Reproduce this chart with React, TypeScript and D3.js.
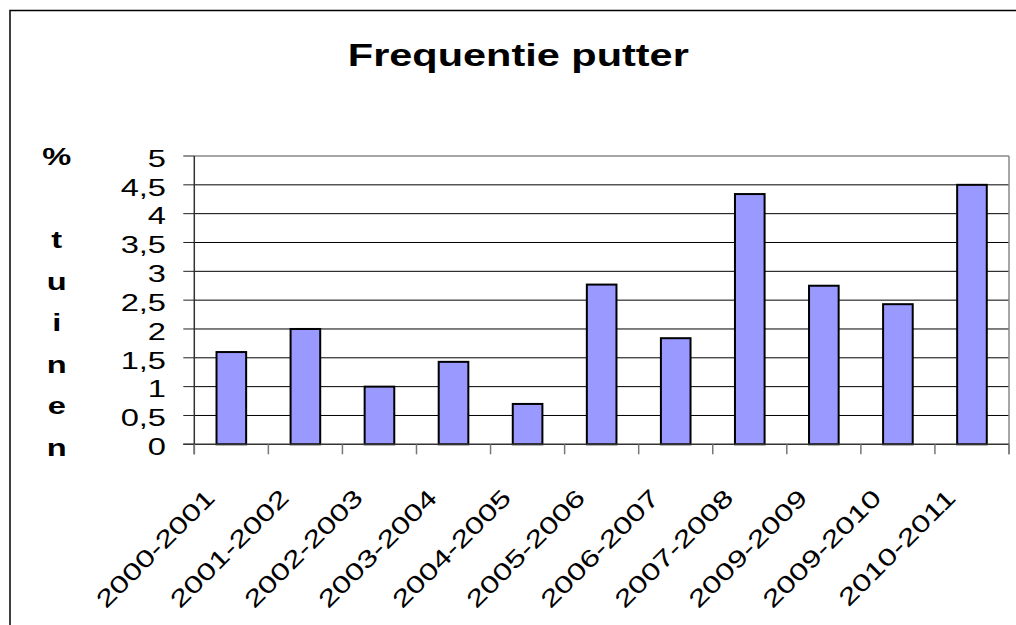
import React from "react";
import * as d3 from "d3";

const categories = [
  "2000-2001", "2001-2002", "2002-2003", "2003-2004", "2004-2005", "2005-2006",
  "2006-2007", "2007-2008", "2009-2009", "2009-2010", "2010-2011",
];
const values = [1.6, 2.0, 1.0, 1.43, 0.7, 2.77, 1.84, 4.34, 2.75, 2.43, 4.5];
const yTicks = [0, 0.5, 1, 1.5, 2, 2.5, 3, 3.5, 4, 4.5, 5];
const yTitleLines = ["%", "", "t", "u", "i", "n", "e", "n"];
const title = "Frequentie putter";

const W = 1016;
const H = 625;
const FONT = "'Liberation Sans', Arial, Helvetica, sans-serif";
const SX = 1.36;

export default function App() {
  const left = 194.3;
  const right = 1009;
  const top = 156;
  const bottom = 444.3;

  const x = d3.scaleBand<string>().domain(categories).range([left, right]).paddingInner(0.6).paddingOuter(0.3);
  const y = d3.scaleLinear().domain([0, 5]).range([bottom, top]);
  const step = x.step();
  const fmt = (v: number) => String(v).replace(".", ",");

  return (
    <svg width={W} height={H} style={{ position: "absolute", left: 0, top: 0, background: "#fff" }}>
      <rect x={0} y={0} width={W} height={H} fill="#fff" />
      <rect x={10} y={10.5} width={W + 20} height={H + 20} fill="none" stroke="#000" strokeWidth={1.5} />
      <text
        transform={`translate(518.3,65.5) scale(${SX},1)`}
        textAnchor="middle"
        fontFamily={FONT}
        fontWeight="bold"
        fontSize={30.5}
        fill="#000"
      >
        {title}
      </text>
      {yTicks.filter((t) => t > 0 && t < 5).map((t) => (
        <line key={"g" + t} x1={left} x2={right} y1={y(t)} y2={y(t)} stroke="#000" strokeWidth={1} />
      ))}
      <line x1={left} x2={right} y1={top} y2={top} stroke="#888" strokeWidth={1.5} />
      <line x1={right} x2={right} y1={top} y2={bottom + 10} stroke="#888" strokeWidth={1.5} />
      {categories.map((c, i) => (
        <rect
          key={c}
          x={x(c)}
          y={y(values[i])}
          width={x.bandwidth()}
          height={bottom - y(values[i])}
          fill="#9999FF"
          stroke="#000"
          strokeWidth={2}
        />
      ))}
      <line x1={left} x2={left} y1={top} y2={bottom + 10} stroke="#333" strokeWidth={1.5} />
      {yTicks.map((t) => (
        <line key={"t" + t} x1={left - 11} x2={left} y1={y(t)} y2={y(t)} stroke="#222" strokeWidth={1} />
      ))}
      {yTicks.map((t) => (
        <text
          key={"l" + t}
          transform={`translate(166,${y(t) + 2.3}) scale(${SX},1)`}
          textAnchor="end"
          dy="0.35em"
          fontFamily={FONT}
          fontSize={24}
          fill="#000"
        >
          {fmt(t)}
        </text>
      ))}
      <line x1={left - 11} x2={right} y1={bottom} y2={bottom} stroke="#333" strokeWidth={1.5} />
      {d3.range(categories.length + 1).map((i) => (
        <line key={"xt" + i} x1={left + i * step} x2={left + i * step} y1={bottom} y2={bottom + 10} stroke="#777" strokeWidth={1.5} />
      ))}
      {categories.map((c) => {
        const cx = (x(c) as number) + x.bandwidth() / 2;
        return (
          <text
            key={"xl" + c}
            transform={`translate(${cx - 15},${bottom + 55}) rotate(-45) scale(${SX},1)`}
            textAnchor="end"
            fontFamily={FONT}
            fontSize={24}
            fill="#000"
          >
            {c}
          </text>
        );
      })}
      {yTitleLines.map((s, i) => (
        <text
          key={"yt" + i}
          transform={`translate(56.7,${165.3 + i * 41.5}) scale(${SX},1)`}
          textAnchor="middle"
          fontFamily={FONT}
          fontWeight="bold"
          fontSize={24}
          fill="#000"
        >
          {s}
        </text>
      ))}
    </svg>
  );
}
